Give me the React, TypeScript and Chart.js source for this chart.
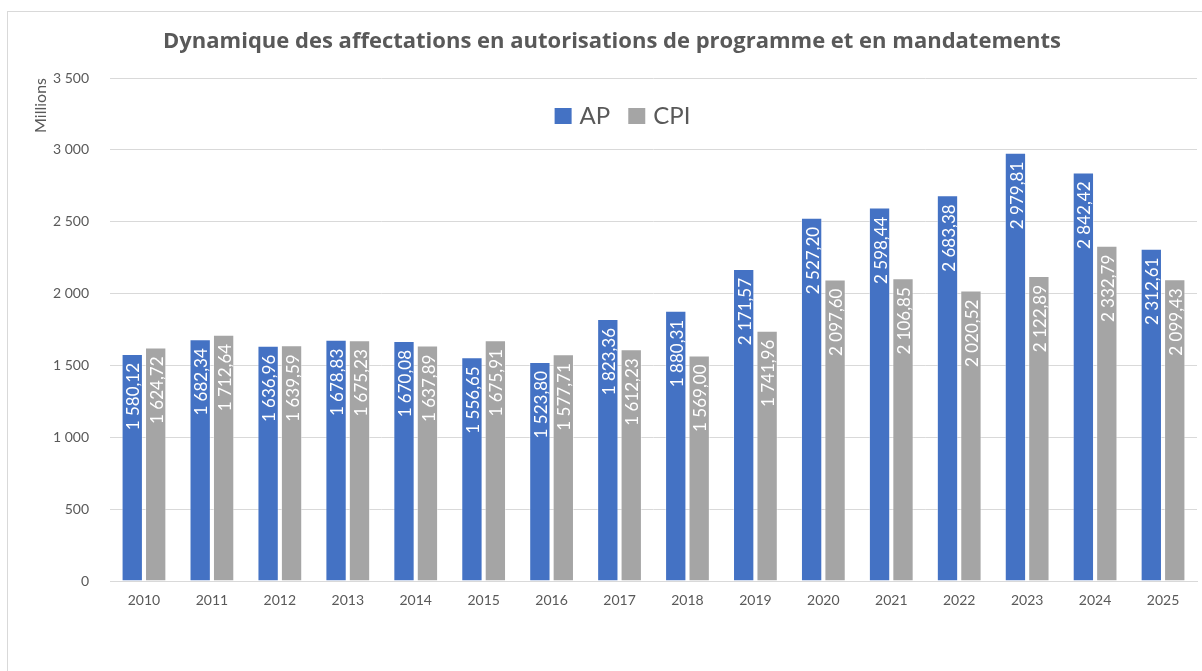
import React, { useEffect, useRef } from 'react';
import { Chart, registerables } from 'chart.js';

Chart.register(...registerables);

const years = ['2010', '2011', '2012', '2013', '2014', '2015', '2016', '2017', '2018', '2019', '2020', '2021', '2022', '2023', '2024', '2025'];
const apValues = [1580.12, 1682.34, 1636.96, 1678.83, 1670.08, 1556.65, 1523.8, 1823.36, 1880.31, 2171.57, 2527.2, 2598.44, 2683.38, 2979.81, 2842.42, 2312.61];
const cpiValues = [1624.72, 1712.64, 1639.59, 1675.23, 1637.89, 1675.91, 1577.71, 1612.23, 1569.0, 1741.96, 2097.6, 2106.85, 2020.52, 2122.89, 2332.79, 2099.43];
const seriesNames = ['AP', 'CPI'];
const seriesColors = ['#4472C4', '#A5A5A5'];
const titleText = 'Dynamique des affectations en autorisations de programme et en mandatements';
const yAxisTitle = 'Millions';
const yMin = 0;
const yMax = 3500;
const yStep = 500;

const FONT = 'Lato, "Open Sans", sans-serif';
const TITLE_FONT = '"Open Sans", Lato, sans-serif';
const TEXT_COLOR = '#595959';
const GRID_COLOR = '#d9d9d9';

const groupThousands = (s: string) => s.replace(/\B(?=(\d{3})+(?!\d))/g, ' ');
const formatValue = (v: number) => {
  const [i, d] = v.toFixed(2).split('.');
  return groupThousands(i) + ',' + d;
};

const barLabelPlugin = {
  id: 'barLabels',
  afterDatasetsDraw(chart: any) {
    const ctx = chart.ctx;
    const size = 17;
    ctx.save();
    ctx.font = `normal ${size}px ${FONT}`;
    ctx.fillStyle = '#ffffff';
    ctx.textAlign = 'right';
    ctx.textBaseline = 'alphabetic';
    chart.data.datasets.forEach((ds: any, di: number) => {
      const meta = chart.getDatasetMeta(di);
      meta.data.forEach((el: any, i: number) => {
        const v = ds.data[i];
        const cap = size * 0.72;
        ctx.save();
        ctx.translate(el.x + cap / 2 + 1, el.y + 9);
        ctx.rotate(-Math.PI / 2);
        ctx.fillText(formatValue(v), 0, 0);
        ctx.restore();
      });
    });
    ctx.restore();
  },
};

const legendPlugin = {
  id: 'customLegend',
  afterDraw(chart: any) {
    const ctx = chart.ctx;
    const size = 24;
    const box = 17;
    const gapBoxText = 8;
    const gapItems = 18;
    ctx.save();
    ctx.font = `normal ${size}px ${FONT}`;
    const widths = seriesNames.map((n) => ctx.measureText(n).width);
    const total = widths.reduce((a, w) => a + box + gapBoxText + w, 0) + gapItems * (seriesNames.length - 1);
    const centerX = chart.chartArea.left + (chart.chartArea.right - chart.chartArea.left) * 0.4715;
    let x = centerX - total / 2;
    const baseline = chart.chartArea.top + 46;
    seriesNames.forEach((n, i) => {
      ctx.fillStyle = seriesColors[i];
      ctx.fillRect(x, baseline - 16, box, box - 1);
      x += box + gapBoxText;
      ctx.fillStyle = TEXT_COLOR;
      ctx.textBaseline = 'alphabetic';
      ctx.textAlign = 'left';
      ctx.fillText(n, x, baseline);
      x += widths[i] + gapItems;
    });
    ctx.restore();
  },
};

export default function App() {
  const canvasRef = useRef<HTMLCanvasElement | null>(null);

  useEffect(() => {
    if (!canvasRef.current) return;
    const chart = new Chart(canvasRef.current, {
      type: 'bar',
      data: {
        labels: years,
        datasets: [
          {
            label: seriesNames[0],
            data: apValues,
            backgroundColor: seriesColors[0],
            borderColor: 'rgba(255,255,255,0.45)',
            borderWidth: 1,
            categoryPercentage: 0.69,
            barPercentage: 0.91,
          },
          {
            label: seriesNames[1],
            data: cpiValues,
            backgroundColor: seriesColors[1],
            borderColor: 'rgba(255,255,255,0.45)',
            borderWidth: 1,
            categoryPercentage: 0.69,
            barPercentage: 0.91,
          },
        ],
      },
      options: {
        responsive: false,
        animation: false,
        devicePixelRatio: 1,
        layout: { padding: { left: 27, right: 5, top: 0, bottom: 0 } },
        plugins: {
          legend: { display: false },
          tooltip: { enabled: false },
          title: {
            display: true,
            text: titleText,
            color: TEXT_COLOR,
            font: { family: TITLE_FONT, size: 22, weight: 'bold' },
            padding: { top: 28.5, bottom: 23.1 },
          },
        },
        scales: {
          x: {
            grid: { display: false, drawTicks: false },
            border: { display: true, color: GRID_COLOR },
            ticks: { color: TEXT_COLOR, font: { family: FONT, size: 14 }, padding: 11 },
            afterFit: (s: any) => {
              s.height = 90;
            },
          },
          y: {
            min: yMin,
            max: yMax,
            ticks: {
              stepSize: yStep,
              color: TEXT_COLOR,
              font: { family: FONT, size: 14 },
              padding: 21,
              callback: (v: any) => groupThousands(String(v)),
            },
            grid: { color: GRID_COLOR, drawTicks: false },
            border: { display: false },
            title: {
              display: true,
              text: yAxisTitle,
              align: 'end',
              color: TEXT_COLOR,
              font: { family: FONT, size: 16 },
              padding: { top: 4, bottom: 0 },
            },
            afterFit: (s: any) => {
              s.width = 83;
            },
          },
        },
      },
      plugins: [barLabelPlugin, legendPlugin],
    } as any);
    return () => chart.destroy();
  }, []);

  return (
    <div style={{ position: 'absolute', left: 0, top: 0, width: 1202, height: 671, overflow: 'hidden', background: '#ffffff' }}>
      <div
        style={{
          position: 'absolute',
          left: 7,
          top: 11,
          width: 1240,
          height: 700,
          border: '1px solid #d9d9d9',
        }}
      />
      <canvas ref={canvasRef} width={1202} height={671} style={{ position: 'absolute', left: 0, top: 0 }} />
    </div>
  );
}
